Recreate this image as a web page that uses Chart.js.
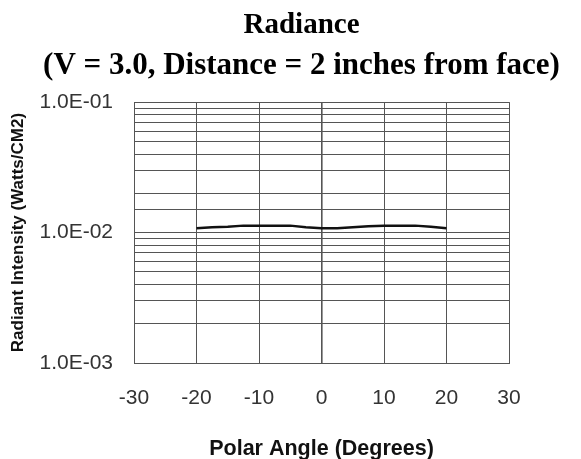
<!DOCTYPE html>
<html>
<head>
<meta charset="utf-8">
<script src="https://cdn.jsdelivr.net/npm/chart.js@4/dist/chart.umd.min.js"></script>
<style>
  html, body { margin: 0; padding: 0; background: #fff; }
  #wrap { width: 581px; height: 459px; }
</style>
</head>
<body>
<div id="wrap"><canvas id="radianceChart" width="581" height="459"></canvas></div>
<script>
// angle (deg) vs radiant intensity
const angles = [-20, -17.5, -15, -12.5, -10, -7.5, -5, -2.5, 0, 2.5, 5, 7.5, 10, 12.5, 15, 17.5, 20];
const intensity = [0.0108, 0.0110, 0.0111, 0.0113, 0.0113, 0.0113, 0.0113, 0.0110, 0.0108,
                   0.0108, 0.0110, 0.0112, 0.0113, 0.0113, 0.0113, 0.0111, 0.0108];
const xTicks = [-30, -20, -10, 0, 10, 20, 30];
const yDecades = [0.001, 0.01, 0.1];

const sans = "'Liberation Sans', Arial, sans-serif";
const serif = "'Liberation Serif', 'Times New Roman', serif";

function sci(v) {
    const e = Math.round(Math.log10(v));
    const m = (v / Math.pow(10, e)).toFixed(1);
    const sign = e < 0 ? '-' : '+';
    return m + 'E' + sign + String(Math.abs(e)).padStart(2, '0');
}

new Chart(document.getElementById('radianceChart'), {
    type: 'scatter',
    data: {
        datasets: [{
            data: angles.map((a, i) => ({ x: a, y: intensity[i] })),
            showLine: true,
            borderColor: '#111',
            borderWidth: 2.5,
            pointRadius: 0,
            tension: 0
        }]
    },
    options: {
        responsive: false,
        animation: false,
        layout: { padding: { left: 22, right: 0, top: 0, bottom: 0 } },
        plugins: {
            legend: { display: false },
            tooltip: { enabled: false },
            title: {
                display: true,
                text: 'Radiance',
                color: '#000',
                font: { family: serif, size: 29, weight: 'bold', lineHeight: 1.2 },
                padding: { top: 8.6, bottom: 0 }
            },
            subtitle: {
                display: true,
                text: '(V = 3.0, Distance = 2 inches from face)',
                color: '#000',
                font: { family: serif, size: 31, weight: 'bold', lineHeight: 1.2 },
                padding: { top: 3.5, bottom: 18 }
            }
        },
        scales: {
            x: {
                type: 'linear',
                min: -30,
                max: 30,
                afterBuildTicks: s => { s.ticks = xTicks.map(v => ({ value: v })); },
                afterFit: s => { s.height = 96; },
                ticks: { color: '#333', font: { family: sans, size: 21 }, padding: 23 },
                grid: {
                    color: '#555',
                    lineWidth: ctx => (ctx.tick && ctx.tick.value === 0 ? 1.6 : 1),
                    drawTicks: false
                },
                border: { color: '#555' },
                title: {
                    display: true,
                    text: 'Polar Angle (Degrees)',
                    color: '#111',
                    font: { family: sans, size: 21.5, weight: 'bold', lineHeight: 0.9 },
                    padding: { top: 0, bottom: 0 }
                }
            },
            y: {
                type: 'logarithmic',
                min: 0.001,
                max: 0.1,
                afterFit: s => { s.width = 112; },
                ticks: {
                    autoSkip: false,
                    color: '#333',
                    font: { family: sans, size: 21 },
                    padding: 21,
                    callback: v => (yDecades.some(d => Math.abs(d - v) / d < 1e-6) ? sci(v) : '')
                },
                grid: { color: '#555', lineWidth: 1, drawTicks: false },
                border: { color: '#555' },
                title: {
                    display: true,
                    text: 'Radiant Intensity (Watts/CM2)',
                    color: '#111',
                    font: { family: sans, size: 17, weight: 'bold' },
                    padding: { top: -14, bottom: 0 }
                }
            },
            // empty right-hand axis, only keeps the white margin on the right
            yRight: {
                position: 'right',
                display: true,
                afterFit: s => { s.width = 72; },
                ticks: { display: false },
                grid: { display: false, drawOnChartArea: false },
                border: { display: false }
            }
        }
    }
});
</script>
</body>
</html>
